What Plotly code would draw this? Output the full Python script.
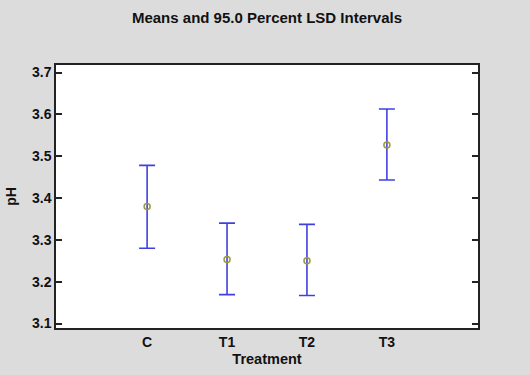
import plotly.graph_objects as go

treatments = ["C", "T1", "T2", "T3"]
means = [3.380, 3.253, 3.250, 3.527]
upper = [3.478, 3.340, 3.337, 3.613]
lower = [3.280, 3.169, 3.167, 3.443]

err_plus = [u - m for u, m in zip(upper, means)]
err_minus = [m - l for m, l in zip(means, lower)]

fig = go.Figure()
fig.add_trace(go.Scatter(
    x=treatments, y=means, mode="markers",
    marker=dict(symbol="circle-open", size=6, color="#9a9a3a",
                line=dict(color="#9a9a3a", width=1.5)),
    error_y=dict(type="data", array=err_plus, arrayminus=err_minus,
                 color="#4040e0", thickness=1.6, width=8),
    showlegend=False,
))

font_family = "Liberation Sans, Arial, sans-serif"
fig.update_layout(
    width=530, height=375,
    margin=dict(l=56, r=52, t=65, b=47),
    paper_bgcolor="#dcdcdc", plot_bgcolor="white",
    title=dict(text="<b>Means and 95.0 Percent LSD Intervals</b>",
               x=0.5, xref="paper", y=1 - 18 / 375, yanchor="middle",
               font=dict(family=font_family, size=15, color="#111")),
    font=dict(family=font_family, color="#111"),
)
fig.update_xaxes(
    type="category", range=[-1.14, 4.14], automargin=False,
    showgrid=False, zeroline=False,
    showline=True, linecolor="#222", linewidth=1.5, mirror=True,
    ticks="", tickfont=dict(size=14, family=font_family, color="#111"),
    tickprefix="<b>", ticksuffix="</b>",
    title=dict(text="<b>Treatment</b>", font=dict(size=14.5), standoff=5),
)
fig.update_yaxes(
    range=[3.0893, 3.7181], tickvals=[3.1, 3.2, 3.3, 3.4, 3.5, 3.6, 3.7],
    ticktext=["<b>%.1f</b>" % v for v in [3.1, 3.2, 3.3, 3.4, 3.5, 3.6, 3.7]],
    automargin=False,
    showgrid=False, zeroline=False,
    showline=True, linecolor="#222", linewidth=1.5, mirror="allticks",
    ticks="inside", ticklen=6, tickwidth=1.5, tickcolor="#222",
    tickfont=dict(size=14, family=font_family, color="#111"),
    title=dict(text="<b>pH</b>", font=dict(size=14), standoff=12),
)

fig.write_html(
    "out.html",
    config={"displayModeBar": False},
    post_script="document.body.style.margin='0';document.body.style.padding='0';",
)
